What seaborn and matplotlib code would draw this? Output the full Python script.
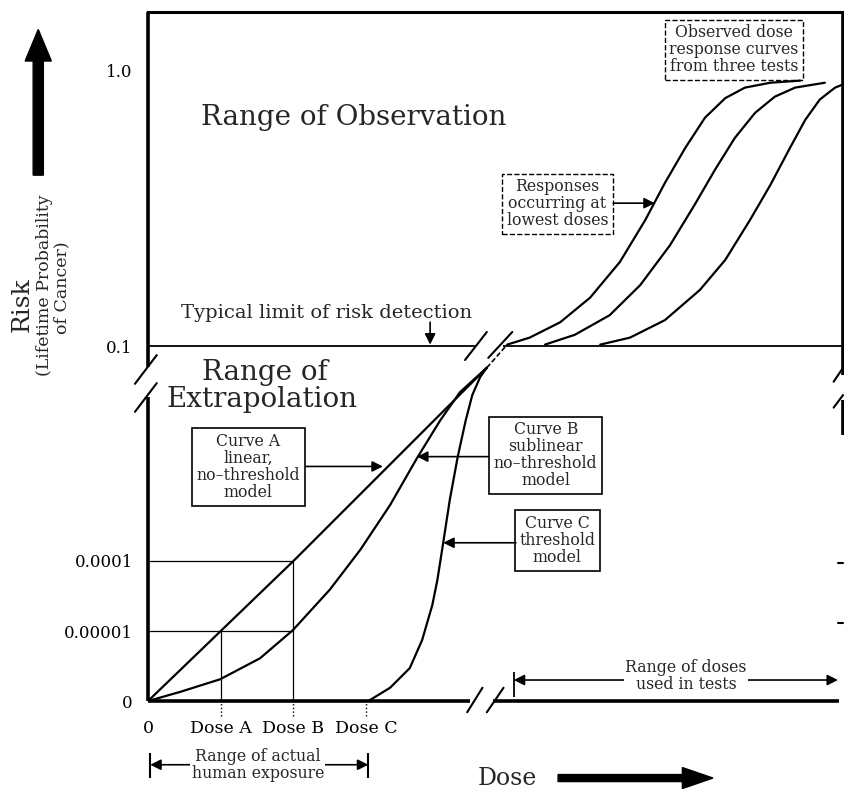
import matplotlib.pyplot as plt
import seaborn as sns

sns.set_theme(style="white")
plt.rcParams["font.family"] = ["DejaVu Serif"]

# schematic units: dose axis has Dose A = 1, Dose B = 2, Dose C = 3
# risk axis is not to scale: 0.00001 -> 1, 0.0001 -> 2, 0.1 -> 5.07, 1.0 -> 9
risk_ticks = [0, 1, 2, 5.07, 9]
risk_labels = ["0", "0.00001", "0.0001", "0.1", "1.0"]
dose_ticks = [0, 1, 2, 3]
dose_labels = ["0", "Dose A", "Dose B", "Dose C"]

# extrapolated curves (below the detection limit)
curve_a_dose = [0, 1, 2, 4.66]
curve_a_risk = [0, 1, 2, 4.76]
curve_b_dose = [0, 0.44, 0.99, 1.54, 1.99, 2.50, 2.92, 3.33, 3.70, 4.02, 4.29, 4.66]
curve_b_risk = [0, 0.13, 0.31, 0.61, 1.01, 1.59, 2.16, 2.80, 3.47, 4.01, 4.41, 4.76]
curve_c_dose = [3.03, 3.33, 3.60, 3.77, 3.91, 3.98, 4.06, 4.15, 4.26, 4.37, 4.46, 4.57, 4.66]
curve_c_risk = [0, 0.19, 0.47, 0.87, 1.37, 1.73, 2.26, 2.87, 3.49, 4.01, 4.37, 4.63, 4.76]

# observed dose response curves from three tests
test1_dose = [4.94, 5.25, 5.67, 6.08, 6.49, 6.84, 7.11, 7.39, 7.66, 7.94, 8.21, 8.56, 8.97]
test1_risk = [5.09, 5.19, 5.41, 5.76, 6.27, 6.87, 7.40, 7.90, 8.33, 8.61, 8.76, 8.83, 8.86]
test2_dose = [5.46, 5.87, 6.35, 6.77, 7.18, 7.52, 7.80, 8.07, 8.35, 8.62, 8.90, 9.31]
test2_risk = [5.09, 5.23, 5.51, 5.94, 6.51, 7.09, 7.59, 8.04, 8.40, 8.63, 8.76, 8.83]
test3_dose = [6.22, 6.63, 7.11, 7.59, 7.94, 8.28, 8.56, 8.83, 9.04, 9.24, 9.45, 9.57]
test3_risk = [5.09, 5.19, 5.44, 5.87, 6.30, 6.87, 7.37, 7.90, 8.30, 8.59, 8.76, 8.81]

# dashed link between the two ranges
link_dose = [4.66, 4.94]
link_risk = [4.76, 5.09]

fig = plt.figure(figsize=(8.44, 7.89), dpi=100)
ax = fig.add_axes([0.1754, 0.1115, 0.8235, 0.8733])
ax.set_xlim(0, 9.56)
ax.set_ylim(0, 9.84)

k = dict(color="black", lw=1.6, sort=False, estimator=None, ax=ax, legend=False, zorder=4)
sns.lineplot(x=curve_a_dose, y=curve_a_risk, **k)
sns.lineplot(x=curve_b_dose, y=curve_b_risk, **k)
sns.lineplot(x=curve_c_dose, y=curve_c_risk, **k)
sns.lineplot(x=test1_dose, y=test1_risk, **k)
sns.lineplot(x=test2_dose, y=test2_risk, **k)
sns.lineplot(x=test3_dose, y=test3_risk, **k)
ax.plot(link_dose, link_risk, color="black", lw=1.2, ls=(0, (3, 1.5)))

# frame with breaks
for s in ["left", "right", "bottom"]:
    ax.spines[s].set_visible(False)
ax.spines["top"].set_linewidth(2.2)
ax.spines["top"].set_color("black")
fr = dict(color="black", lw=2.6, clip_on=False, solid_capstyle="butt")
ax.plot([0, 0], [0, 4.34], **fr)
ax.plot([0, 0], [4.77, 9.84], **fr)
ax.plot([9.56, 9.56], [9.84, 4.66], **fr)
ax.plot([9.56, 9.56], [4.30, 3.80], **fr)
ax.plot([0, 4.43], [0, 0], **fr)
ax.plot([4.75, 9.50], [0, 0], **fr)
sl = dict(color="black", lw=1.5, clip_on=False)
ax.plot([-0.18, 0.12], [4.53, 4.94], **sl)
ax.plot([-0.18, 0.12], [4.13, 4.54], **sl)
ax.plot([9.43, 9.56], [4.56, 4.76], **sl)
ax.plot([9.43, 9.56], [4.19, 4.37], **sl)
ax.plot([4.39, 4.60], [-0.16, 0.19], **sl)
ax.plot([4.66, 4.89], [-0.16, 0.19], **sl)
ax.plot([4.36, 4.66], [4.87, 5.27], **sl)
ax.plot([4.68, 5.01], [4.90, 5.27], **sl)
ax.plot([9.49, 9.56], [1.97, 1.97], **sl)
ax.plot([9.49, 9.56], [1.11, 1.11], **sl)

# detection limit line and reference lines
ax.hlines(risk_ticks[3], 0, 4.50, color="black", lw=1.3)
ax.hlines(risk_ticks[3], 4.88, 9.56, color="black", lw=1.3)
ax.hlines(risk_ticks[1:3], 0, dose_ticks[2], color="black", lw=0.9)
ax.vlines(dose_ticks[1], 0, risk_ticks[1], color="black", lw=0.9)
ax.vlines(dose_ticks[2], 0, risk_ticks[2], color="black", lw=0.9)
ax.vlines(dose_ticks[1:], -0.22, 0, color="black", lw=1, linestyles=":", clip_on=False)

ax.set_yticks(risk_ticks, risk_labels, fontsize=12)
ax.set_xticks(dose_ticks, dose_labels, fontsize=12.5)
ax.tick_params(axis="y", direction="in", length=6, width=1.5, pad=11, colors="black")
ax.tick_params(axis="x", length=0, pad=14, colors="black")

# region labels
ax.text(2.83, 8.34, "Range of Observation", fontsize=20, ha="center", va="center")
ax.text(1.61, 4.69, "Range of", fontsize=20, ha="center", va="center")
ax.text(1.57, 4.30, "Extrapolation", fontsize=20, ha="center", va="center")
ax.text(2.46, 5.54, "Typical limit of risk detection", fontsize=14, ha="center", va="center")

arr = dict(arrowstyle="-|>", color="black", lw=1.2, mutation_scale=16, shrinkA=0, shrinkB=0)
ax.annotate("", xy=(3.88, 5.09), xytext=(3.88, 5.41), arrowprops=arr)

box = dict(boxstyle="square,pad=0.3", fc="white", ec="black", lw=1.2)
dbox = dict(boxstyle="square,pad=0.3", fc="white", ec="black", lw=1.0, ls="--")
bt = dict(fontsize=11.3, ha="center", va="center", linespacing=1.0, multialignment="center")
ax.text(1.38, 3.34, "Curve A\nlinear,\nno\u2013threshold\nmodel", bbox=box, **bt)
ax.text(5.47, 3.51, "Curve B\nsublinear\nno\u2013threshold\nmodel", bbox=box, **bt)
ax.text(5.63, 2.29, "Curve C\nthreshold\nmodel", bbox=box, **bt)
ax.text(5.63, 7.10, "Responses\noccurring at\nlowest doses", bbox=dbox, **bt)
ax.text(8.06, 9.30, "Observed dose\nresponse curves\nfrom three tests", bbox=dbox, zorder=3, **bt)

ax.annotate("", xy=(3.23, 3.35), xytext=(2.17, 3.35), arrowprops=arr)
ax.annotate("", xy=(3.70, 3.49), xytext=(4.68, 3.49), arrowprops=arr)
ax.annotate("", xy=(4.06, 2.26), xytext=(5.06, 2.26), arrowprops=arr)
ax.annotate("", xy=(6.97, 7.11), xytext=(6.40, 7.11), arrowprops=arr)

# dose ranges
darr = dict(arrowstyle="<|-|>", color="black", lw=1.2, mutation_scale=16, shrinkA=0, shrinkB=0)
ax.annotate("", xy=(9.49, 0.30), xytext=(5.03, 0.30), arrowprops=darr)
ax.vlines(5.03, 0.06, 0.41, color="black", lw=1.3)
ax.text(7.40, 0.36, "Range of doses\nused in tests", bbox=dict(fc="white", ec="none", pad=1), **bt)

ax.annotate("", xy=(3.03, -0.91), xytext=(0.03, -0.91), arrowprops=darr, annotation_clip=False)
ax.vlines([0.03, 3.03], -1.10, -0.74, color="black", lw=1.5, clip_on=False)
ax.text(1.51, -0.91, "Range of actual\nhuman exposure", bbox=dict(fc="white", ec="none", pad=1), **bt)

# axis titles with big arrows
ax.text(4.94, -1.10, "Dose", fontsize=17, ha="center", va="center")
ax.arrow(5.64, -1.10, 2.13, 0, width=0.1, head_width=0.3, head_length=0.42,
         length_includes_head=True, color="black", clip_on=False)
ax.arrow(-1.51, 7.51, 0, 2.08, width=0.14, head_width=0.36, head_length=0.45,
         length_includes_head=True, color="black", clip_on=False)
ax.text(-1.73, 5.66, "Risk", fontsize=18, rotation=90, ha="center", va="center")
ax.text(-1.43, 5.94, "(Lifetime Probability", fontsize=12.5, rotation=90, ha="center", va="center")
ax.text(-1.18, 5.90, "of Cancer)", fontsize=12.5, rotation=90, ha="center", va="center")

fig.savefig("out.png", dpi=100, facecolor="white")
